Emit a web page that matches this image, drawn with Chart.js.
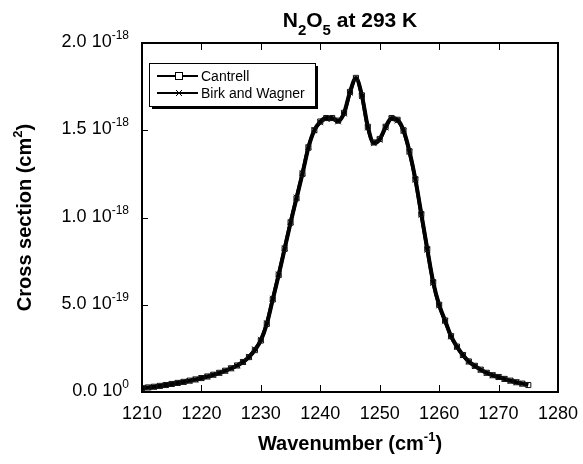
<!DOCTYPE html>
<html>
<head>
<meta charset="utf-8">
<script src="https://cdn.jsdelivr.net/npm/chart.js@4/dist/chart.umd.min.js"></script>
<style>
    body { margin: 0; background: #fff; }
    #wrap { width: 583px; height: 464px; }
</style>
</head>
<body>
<div id="wrap"><canvas id="chart" width="583" height="464"></canvas></div>
<script>
// Data (cross section in units of 1e-18 cm^2)
const wavenumbers = [
    1210, 1211, 1212, 1213, 1214, 1215, 1216, 1217, 1218, 1219,
    1220, 1221, 1222, 1223, 1224, 1225, 1226, 1227, 1228, 1229,
    1230, 1231, 1232, 1233, 1234, 1235, 1236, 1237, 1238, 1239,
    1240, 1241, 1242, 1243, 1244, 1245, 1246, 1247, 1248, 1249,
    1250, 1251, 1252, 1253, 1254, 1255, 1256, 1257, 1258, 1259,
    1260, 1261, 1262, 1263, 1264, 1265, 1266, 1267, 1268, 1269,
    1270, 1271, 1272, 1273, 1274, 1275
];
const cantrell = [
    0.022, 0.026, 0.030, 0.035, 0.040, 0.046, 0.052, 0.058, 0.065, 0.072,
    0.080, 0.089, 0.099, 0.110, 0.122, 0.136, 0.152, 0.172, 0.200, 0.240,
    0.295, 0.390, 0.530, 0.670, 0.820, 0.970, 1.110, 1.250, 1.400, 1.500,
    1.550, 1.570, 1.570, 1.555, 1.600, 1.720, 1.800, 1.700, 1.520, 1.430,
    1.450, 1.520, 1.570, 1.560, 1.500, 1.380, 1.220, 1.020, 0.820, 0.630,
    0.500, 0.410, 0.320, 0.260, 0.212, 0.175, 0.150, 0.128, 0.110, 0.096,
    0.086, 0.075, 0.065, 0.056, 0.048, 0.040
];
const birkWagner = [
    0.020, 0.025, 0.029, 0.034, 0.039, 0.045, 0.051, 0.057, 0.064, 0.071,
    0.079, 0.088, 0.098, 0.109, 0.121, 0.135, 0.151, 0.171, 0.202, 0.245,
    0.300, 0.395, 0.535, 0.675, 0.825, 0.975, 1.115, 1.255, 1.405, 1.500,
    1.545, 1.565, 1.565, 1.550, 1.595, 1.715, 1.795, 1.695, 1.515, 1.425,
    1.445, 1.515, 1.565, 1.555, 1.495, 1.375, 1.215, 1.015, 0.815, 0.625,
    0.495, 0.405, 0.318, 0.258, 0.210, 0.173, 0.148, 0.127, 0.109, 0.095,
    0.085, 0.074, 0.064, 0.055, 0.047
];
const seriesLabels = ['Cantrell', 'Birk and Wagner'];

const xTicks = [1210, 1220, 1230, 1240, 1250, 1260, 1270, 1280];
const yTicks = [0, 0.5, 1.0, 1.5, 2.0];
const yTickMantissa = ['0.0', '5.0', '1.0', '1.5', '2.0'];
const yTickExponent = ['0', '-19', '-18', '-18', '-18'];

const FONT = '"Liberation Sans", Arial, Helvetica, sans-serif';

// draw text made of normal / sup / sub pieces
function richWidth(ctx, parts, size, weight) {
    let w = 0;
    parts.forEach(p => {
        const s = p[1] === 'n' ? size : p[2];
        ctx.font = `${weight} ${s}px ${FONT}`;
        w += ctx.measureText(p[0]).width;
    });
    return w;
}
function drawRich(ctx, parts, x, y, align, size, weight) {
    const w = richWidth(ctx, parts, size, weight);
    let cx = align === 'center' ? x - w / 2 : align === 'right' ? x - w : x;
    ctx.textAlign = 'left';
    ctx.textBaseline = 'alphabetic';
    parts.forEach(p => {
        const s = p[1] === 'n' ? size : p[2];
        ctx.font = `${weight} ${s}px ${FONT}`;
        const dy = p[1] === 'sup' ? -p[3] : p[1] === 'sub' ? p[3] : 0;
        ctx.fillText(p[0], cx, y + dy);
        cx += ctx.measureText(p[0]).width;
    });
}

const framePlugin = {
    id: 'frame',
    afterDraw(chart) {
        const ctx = chart.ctx;
        const a = chart.chartArea;
        const xs = chart.scales.x, ys = chart.scales.y;
        ctx.save();
        ctx.fillStyle = '#000';
        ctx.strokeStyle = '#000';

        // frame
        ctx.lineWidth = 2;
        ctx.strokeRect(a.left, a.top, a.right - a.left, a.bottom - a.top);

        // inward ticks
        ctx.lineWidth = 1;
        ctx.beginPath();
        xTicks.forEach(v => {
            const px = Math.round(xs.getPixelForValue(v)) + 0.5;
            ctx.moveTo(px, a.bottom); ctx.lineTo(px, a.bottom - 7);
            ctx.moveTo(px, a.top); ctx.lineTo(px, a.top + 7);
        });
        yTicks.forEach(v => {
            const py = Math.round(ys.getPixelForValue(v)) + 0.5;
            ctx.moveTo(a.left, py); ctx.lineTo(a.left + 6, py);
        });
        ctx.stroke();

        // x tick labels
        ctx.font = `18px ${FONT}`;
        ctx.textAlign = 'center';
        ctx.textBaseline = 'alphabetic';
        xTicks.forEach(v => ctx.fillText(String(v), xs.getPixelForValue(v), a.bottom + 27));

        // y tick labels
        yTicks.forEach((v, i) => {
            const py = ys.getPixelForValue(v);
            drawRich(ctx, [[yTickMantissa[i] + ' 10', 'n'], [yTickExponent[i], 'sup', 12, 8]],
                a.left - 13, py + 4, 'right', 18, 'normal');
        });

        // chart title
        const midX = (a.left + a.right) / 2;
        drawRich(ctx, [['N', 'n'], ['2', 'sub', 15, 8], ['O', 'n'], ['5', 'sub', 15, 8], [' at 293 K', 'n']],
            midX, 27, 'center', 21, 'bold');

        // axis titles
        drawRich(ctx, [['Wavenumber (cm', 'n'], ['-1', 'sup', 13, 9], [')', 'n']],
            midX, 450, 'center', 20, 'bold');
        ctx.save();
        ctx.translate(31, (a.top + a.bottom) / 2);
        ctx.rotate(-Math.PI / 2);
        drawRich(ctx, [['Cross section (cm', 'n'], ['2', 'sup', 13, 9], [')', 'n']],
            0, 0, 'center', 20, 'bold');
        ctx.restore();

        // legend box with shadow
        const lx = a.left + 7, ly = a.top + 20, lw = 166, lh = 43;
        ctx.fillRect(lx + 3, ly + 3, lw, lh);
        ctx.fillStyle = '#fff';
        ctx.fillRect(lx, ly, lw, lh);
        ctx.lineWidth = 1;
        ctx.strokeRect(lx + 0.5, ly + 0.5, lw, lh);
        ctx.fillStyle = '#000';
        chart.data.datasets.forEach((ds, i) => {
            const yy = ly + 13 + i * 17;
            ctx.lineWidth = 2;
            ctx.beginPath();
            ctx.moveTo(lx + 8, yy); ctx.lineTo(lx + 49, yy);
            ctx.stroke();
            ctx.lineWidth = 1;
            const mx = lx + 30;
            if (i === 0) {
                ctx.fillStyle = '#fff';
                ctx.fillRect(mx - 3.5, yy - 3.5, 7, 7);
                ctx.strokeRect(mx - 3.5, yy - 3.5, 7, 7);
                ctx.fillStyle = '#000';
            } else {
                ctx.beginPath();
                ctx.moveTo(mx - 3, yy - 3); ctx.lineTo(mx + 3, yy + 3);
                ctx.moveTo(mx + 3, yy - 3); ctx.lineTo(mx - 3, yy + 3);
                ctx.stroke();
            }
            ctx.font = `14px ${FONT}`;
            ctx.textAlign = 'left';
            ctx.textBaseline = 'middle';
            ctx.fillText(ds.label, lx + 52, yy + 1);
        });
        ctx.restore();
    }
};

function toPoints(ys) {
    return ys.map((v, i) => ({ x: wavenumbers[i], y: v }));
}

new Chart(document.getElementById('chart'), {
    type: 'line',
    data: {
        datasets: [
            {
                label: seriesLabels[0], data: toPoints(cantrell),
                borderColor: '#000', borderWidth: 4, cubicInterpolationMode: 'monotone',
                pointStyle: 'rect', pointRadius: 3.6, pointBorderWidth: 1,
                pointBorderColor: '#111', pointBackgroundColor: 'rgba(0,0,0,0)'
            },
            {
                label: seriesLabels[1], data: toPoints(birkWagner),
                borderColor: '#000', borderWidth: 3.5, cubicInterpolationMode: 'monotone',
                pointStyle: 'crossRot', pointRadius: 4, pointBorderWidth: 1,
                pointBorderColor: '#222'
            }
        ]
    },
    options: {
        responsive: false,
        animation: false,
        layout: { padding: { left: 142, top: 43, right: 25, bottom: 72 } },
        plugins: { legend: { display: false }, title: { display: false }, tooltip: { enabled: false } },
        scales: {
            x: { type: 'linear', min: 1210, max: 1280, display: false },
            y: { type: 'linear', min: 0, max: 2.0, display: false }
        }
    },
    plugins: [framePlugin]
});
</script>
</body>
</html>
